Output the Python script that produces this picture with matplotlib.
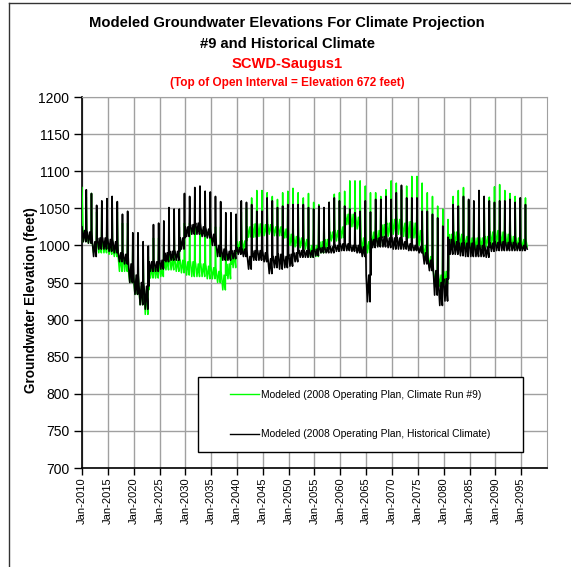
import datetime as dt
import matplotlib
matplotlib.use("Agg")
import matplotlib.pyplot as plt
import matplotlib.dates as mdates
from matplotlib.lines import Line2D
from matplotlib.patches import Rectangle

plt.rcParams['font.family'] = ['Liberation Sans', 'DejaVu Sans']

# ---------------- data ----------------
years = list(range(2010, 2096))

# annual spike (late in the year)
black_peak = [1075, 1070, 1054, 1060, 1063, 1066, 1059, 1042, 1046, 1017,
              1017, 1005, 999, 1028, 1030, 1033, 1051, 1049, 1049, 1070,
              1066, 1078, 1080, 1073, 1072, 1066, 1059, 1044, 1044, 1042,
              1060, 1058, 1055, 1046, 1046, 1064, 1060, 1051, 1053, 1055,
              1055, 1055, 1055, 1051, 1049, 1053, 1051, 1058, 1064, 1060,
              1053, 1049, 1044, 1046, 1060, 1045, 1062, 1062, 1066, 1062,
              1071, 1081, 1064, 1064, 1064, 1046, 1046, 1042, 1037, 1026,
              1011, 1055, 1053, 1066, 1062, 1060, 1074, 1066, 1060, 1058,
              1060, 1060, 1062, 1058, 1064, 1055]
black_hi = [1020, 1018, 1005, 1010, 1010, 1008, 1005, 990, 988, 975,
            960, 950, 945, 978, 978, 980, 990, 992, 992, 1010,
            1025, 1028, 1030, 1025, 1022, 1015, 1000, 995, 992, 993,
            997, 995, 985, 993, 993, 990, 982, 985, 988, 985,
            988, 990, 993, 993, 993, 995, 997, 997, 998, 1000,
            1002, 1002, 1000, 1000, 998, 960, 1008, 1010, 1012, 1010,
            1010, 1010, 1005, 1002, 1000, 998, 990, 980, 966, 950,
            955, 1008, 1005, 1003, 1003, 1003, 1000, 1000, 998, 1003,
            1004, 1005, 1004, 1004, 1003, 1000]
black_lo = [1005, 1003, 985, 995, 995, 992, 990, 978, 975, 950,
            934, 920, 914, 965, 965, 968, 978, 980, 980, 995,
            1012, 1015, 1015, 1012, 1010, 1000, 985, 980, 980, 982,
            988, 985, 968, 980, 980, 978, 962, 970, 968, 970,
            972, 978, 984, 984, 984, 986, 990, 990, 990, 992,
            993, 993, 992, 990, 985, 924, 997, 998, 998, 997,
            995, 995, 995, 993, 993, 990, 975, 966, 933, 919,
            925, 988, 988, 986, 985, 985, 985, 985, 984, 992,
            993, 993, 993, 993, 993, 993]

green_peak = [1065, 1070, 1045, 1059, 1050, 1050, 1045, 1030, 1030, 1005,
              1000, 995, 985, 1010, 1010, 1015, 1025, 1025, 1025, 1030,
              1030, 1035, 1035, 1030, 1030, 1025, 1025, 1015, 1025, 1035,
              1045, 1050, 1064, 1074, 1074, 1071, 1066, 1062, 1071, 1073,
              1077, 1071, 1064, 1070, 1058, 1055, 1049, 1058, 1069, 1071,
              1073, 1087, 1087, 1087, 1080, 1071, 1071, 1066, 1075, 1087,
              1084, 1075, 1080, 1093, 1093, 1084, 1071, 1066, 1053, 1049,
              1035, 1066, 1074, 1078, 1060, 1058, 1065, 1062, 1065, 1079,
              1082, 1074, 1070, 1066, 1064, 1064]
green_hi = [1020, 1015, 1003, 1003, 1002, 1000, 998, 985, 982, 965,
            955, 945, 940, 970, 968, 970, 983, 983, 980, 980,
            978, 978, 975, 975, 972, 970, 965, 960, 975, 990,
            1005, 1006, 1025, 1029, 1029, 1028, 1028, 1025, 1025, 1022,
            1015, 1012, 1010, 1008, 1000, 1000, 1005, 1008, 1018, 1020,
            1025, 1042, 1042, 1038, 1010, 1005, 1018, 1020, 1028, 1030,
            1035, 1035, 1030, 1032, 1030, 1020, 1000, 985, 965, 960,
            965, 1015, 1018, 1015, 1012, 1010, 1010, 1010, 1012, 1018,
            1020, 1018, 1015, 1012, 1010, 1008]
green_lo = [1005, 1003, 990, 990, 990, 988, 985, 965, 965, 950,
            934, 920, 907, 956, 956, 958, 967, 967, 965, 963,
            960, 958, 958, 958, 955, 955, 950, 940, 955, 970,
            993, 993, 1011, 1011, 1012, 1013, 1015, 1013, 1013, 1010,
            1000, 998, 997, 995, 984, 985, 990, 995, 1006, 1006,
            1010, 1028, 1025, 1022, 993, 990, 1000, 1000, 1011, 1012,
            1015, 1015, 1012, 1010, 1010, 1000, 985, 970, 948, 945,
            948, 997, 1000, 998, 997, 995, 995, 997, 998, 1000,
            1000, 1000, 998, 997, 995, 995]

green_start, black_start = 1078, 1025
green_end, black_end = 998, 995

x_tick_years = list(range(2010, 2100, 5))
y_ticks = list(range(700, 1201, 50))

label_green = "Modeled (2008 Operating Plan, Climate Run #9)"
label_black = "Modeled (2008 Operating Plan, Historical Climate)"

# monthly shape of each year: which annual value each month shows
pattern = [(1, 'hi'), (4, 'lo'), (7, 'hi'), (10, 'lo'), (11, 'peak'), (12, 'hi')]


def build(start, peak, hi, lo, end):
    src = {'peak': peak, 'hi': hi, 'lo': lo}
    xs = [dt.date(years[0], 1, 1)]
    ys = [start]
    for i, y in enumerate(years):
        for m, key in pattern:
            if y == years[0] and m == 1:
                continue
            xs.append(dt.date(y, m, 1))
            ys.append(src[key][i])
    xs.append(dt.date(years[-1] + 1, 3, 1))
    ys.append(end)
    return xs, ys


gx, gy = build(green_start, green_peak, green_hi, green_lo, green_end)
bx, by = build(black_start, black_peak, black_hi, black_lo, black_end)

# ---------------- figure ----------------
W, H = 571, 567
fig = plt.figure(figsize=(W / 100, H / 100), dpi=100)
fig.patch.set_facecolor('white')

# outer chart border (left and top visible)
fig.add_artist(Line2D([9 / W, 9 / W], [0, 1 - 3 / H], transform=fig.transFigure,
                      color='#333333', lw=1))
fig.add_artist(Line2D([9 / W, 1], [1 - 3 / H, 1 - 3 / H], transform=fig.transFigure,
                      color='#333333', lw=1))

ax = fig.add_axes([82 / W, 1 - 468 / H, (547 - 82) / W, (468 - 97) / H])

ax.plot(gx, gy, color='#00FF00', lw=1.1, zorder=3)
ax.plot(bx, by, color='black', lw=1.2, zorder=4)

ax.set_ylim(700, 1200)
ax.set_yticks(y_ticks)
ax.set_xlim(dt.date(2010, 1, 1), dt.date(2100, 1, 1))
ax.set_xticks([dt.date(y, 1, 1) for y in x_tick_years])
ax.xaxis.set_major_formatter(mdates.DateFormatter('%b-%Y'))
ax.tick_params(axis='x', labelrotation=90, labelsize=8, length=5, width=1, pad=2)
ax.tick_params(axis='y', labelsize=10, length=6, width=1, pad=3)
ax.grid(True, color='#a0a0a0', lw=1)
ax.set_axisbelow(True)
for s in ['top', 'right']:
    ax.spines[s].set_color('#a0a0a0')
for s in ['left', 'bottom']:
    ax.spines[s].set_color('black')
    ax.spines[s].set_linewidth(1.2)

ax.set_ylabel('Groundwater Elevation (feet)', fontsize=9.8, fontweight='bold')
ax.yaxis.set_label_coords((38 - 82) / 465, (468 - 300) / 371)

# legend box
lx0, lx1 = (198 - 82) / 465, (523 - 82) / 465
ly0, ly1 = (468 - 452) / 371, (468 - 377) / 371
ax.add_patch(Rectangle((lx0, ly0), lx1 - lx0, ly1 - ly0, transform=ax.transAxes,
                       facecolor='white', edgecolor='black', lw=1, zorder=5))
handles = [Line2D([], [], color='#00FF00', lw=1), Line2D([], [], color='black', lw=1)]
leg = ax.legend(handles, [label_green, label_black], loc='center',
                bbox_to_anchor=((lx0 + lx1) / 2, (ly0 + ly1) / 2),
                frameon=False, fontsize=7.4, handlelength=2.8, handletextpad=0.2,
                labelspacing=2.9)
leg.set_zorder(6)

# titles
cx = 287 / W
fig.text(cx, 1 - 23 / H, 'Modeled Groundwater Elevations For Climate Projection',
         ha='center', va='center', fontsize=10.6, fontweight='bold')
fig.text(cx, 1 - 44 / H, '#9 and Historical Climate',
         ha='center', va='center', fontsize=10.6, fontweight='bold')
fig.text(cx, 1 - 64 / H, 'SCWD-Saugus1',
         ha='center', va='center', fontsize=10.6, fontweight='bold', color='#FF0000')
fig.text(cx, 1 - 83 / H, '(Top of Open Interval = Elevation 672 feet)',
         ha='center', va='center', fontsize=8.5, fontweight='bold', color='#FF0000')

fig.savefig('out.png', dpi=100)
